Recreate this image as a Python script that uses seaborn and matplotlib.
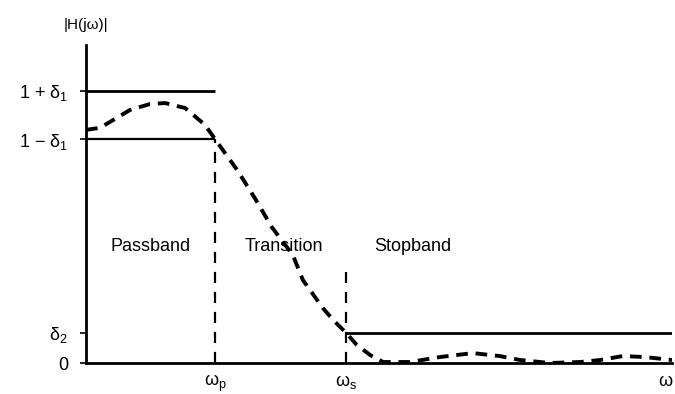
import numpy as np
import pandas as pd
import seaborn as sns
import matplotlib.pyplot as plt

# lowpass filter spec sketch
# frequency normalised so the axis ends at 1.0
w_p = 0.22
w_s = 0.444
w_end = 1.0
delta1 = 0.097
delta2 = 0.121

curve_w = [0.000, 0.024, 0.075, 0.109, 0.135, 0.169, 0.203, 0.220, 0.258, 0.288,
           0.317, 0.353, 0.370, 0.404, 0.422, 0.444, 0.462, 0.485, 0.507, 0.553,
           0.604, 0.660, 0.706, 0.741, 0.792, 0.843, 0.877, 0.916, 0.954, 1.000]
curve_mag = [0.940, 0.948, 1.020, 1.044, 1.048, 1.028, 0.960, 0.903, 0.778, 0.665,
             0.548, 0.435, 0.335, 0.222, 0.173, 0.121, 0.073, 0.032, 0.004, 0.004,
             0.024, 0.040, 0.028, 0.012, 0.000, 0.004, 0.012, 0.028, 0.024, 0.012]

ytick_vals = [0, delta2, 1 - delta1, 1 + delta1]
ytick_labels = ["0", "δ$_2$", "1 − δ$_1$", "1 + δ$_1$"]
xtick_vals = [w_p, w_s, w_end]
xtick_labels = ["ω$_\\mathrm{p}$", "ω$_\\mathrm{s}$", "ω"]
band_names = ["Passband", "Transition", "Stopband"]
band_x = [0.110, 0.338, 0.558]

sns.set_style("white")
plt.rcParams['font.family'] = ['Liberation Sans', 'DejaVu Sans']
plt.rcParams['mathtext.fontset'] = 'custom'
plt.rcParams['mathtext.rm'] = 'Liberation Sans'
plt.rcParams['mathtext.it'] = 'Liberation Sans'
plt.rcParams['text.color'] = 'black'
plt.rcParams['xtick.color'] = 'black'
plt.rcParams['ytick.color'] = 'black'

fig = plt.figure(figsize=(6.75, 3.94), dpi=100)
ax = fig.add_axes([86 / 675, 31 / 394, 586 / 675, 318 / 394])

df = pd.DataFrame({"w": curve_w, "mag": curve_mag})
sns.lineplot(data=df, x="w", y="mag", ax=ax, color="black", linewidth=2.8,
             dashes=False, linestyle=(0, (3, 2)))

# tolerance lines
ax.hlines(1 + delta1, 0, w_p, color="black", linewidth=2.0)
ax.hlines(1 - delta1, 0, w_p, color="black", linewidth=1.6)
ax.hlines(delta2, w_s, w_end, color="black", linewidth=2.0)

# band edges
ax.vlines(w_p, 0, 1 - delta1, color="black", linewidth=1.6, linestyles=(0, (5, 4)))
ax.vlines(w_s, 0, 0.367, color="black", linewidth=1.6, linestyles=(0, (5, 4)))

for name, bx in zip(band_names, band_x):
    ax.text(bx, 0.468, name, ha="center", va="center", fontsize=13)

ax.text(0, 1.363, "|H(jω)|", ha="center", va="center", fontsize=11, clip_on=False)

ax.set_xlim(0, w_end)
ax.set_ylim(0, 1.282)
ax.set_yticks(ytick_vals)
ax.set_yticklabels(ytick_labels, fontsize=13)
ax.set_xticks(xtick_vals)
ax.set_xticklabels(xtick_labels, fontsize=13)
ax.get_xticklabels()[-1].set_ha("right")
ax.tick_params(axis="y", length=4, width=1.2, pad=9, left=True)
ax.tick_params(axis="x", length=0, pad=7)
ax.set_xlabel(None)
ax.set_ylabel(None)

sns.despine(ax=ax)
for s in ["left", "bottom"]:
    ax.spines[s].set_color("black")
    ax.spines[s].set_linewidth(2.0)

fig.savefig("out.png", dpi=100)
